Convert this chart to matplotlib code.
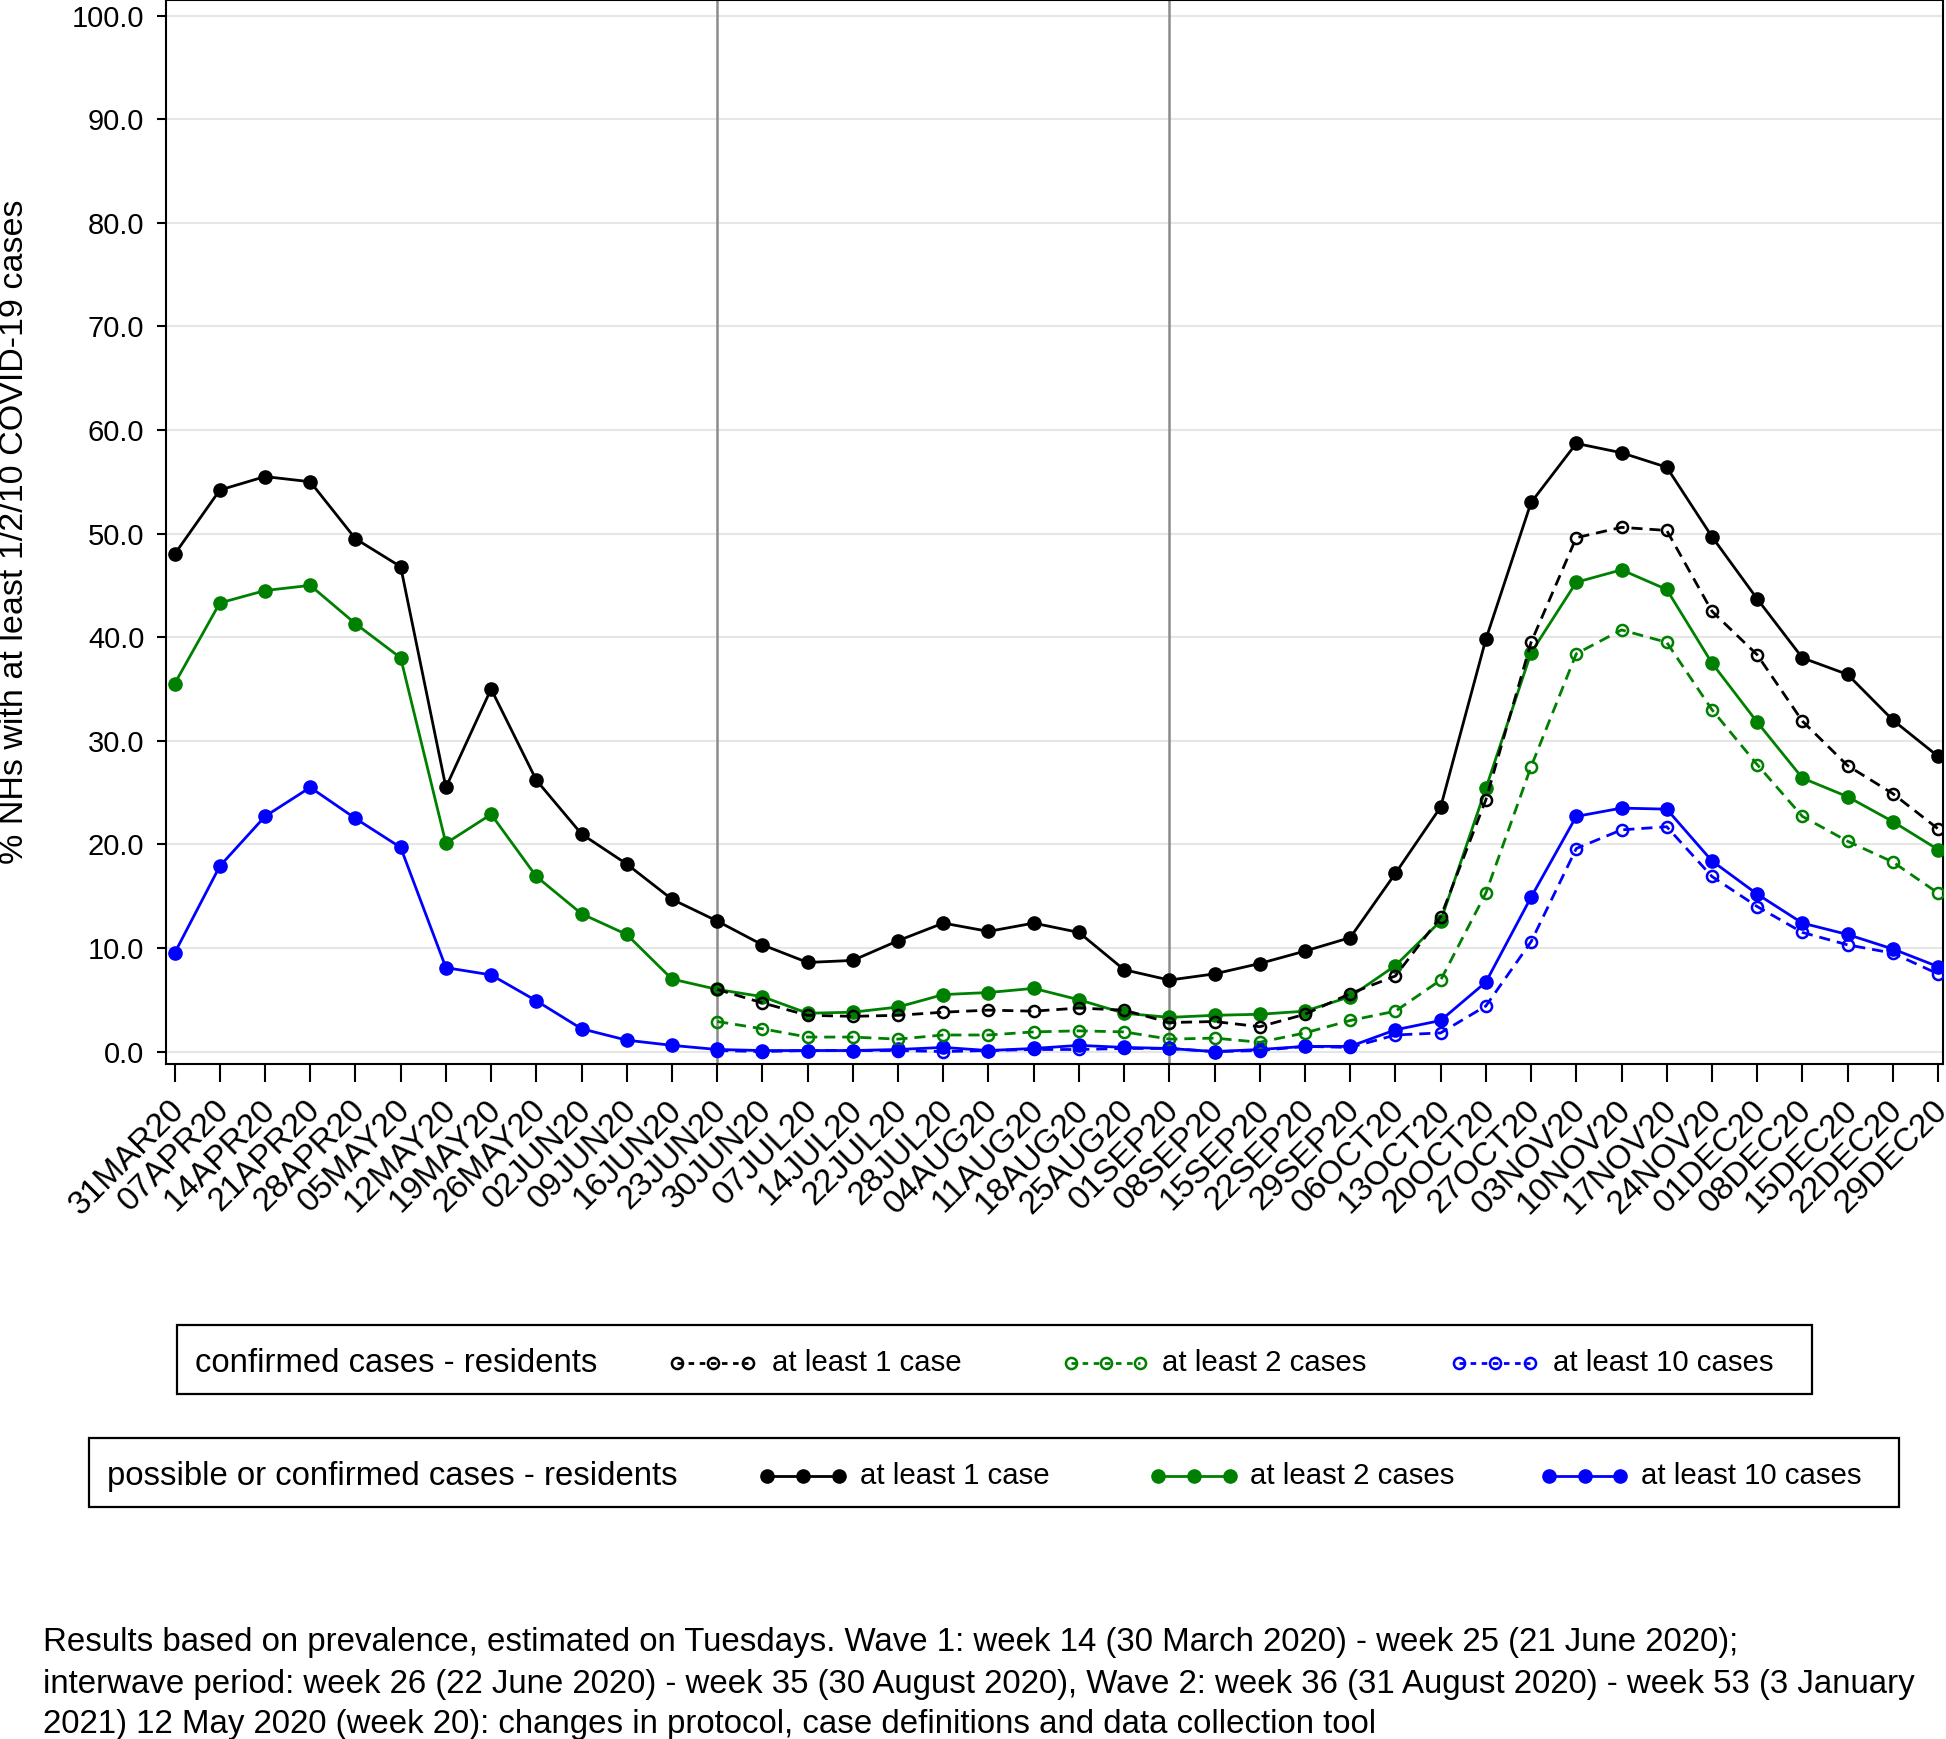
import matplotlib.pyplot as plt
import matplotlib.transforms as mtransforms
from matplotlib.lines import Line2D
from matplotlib.patches import Rectangle
import numpy as np

plt.rcParams['font.family'] = ['Liberation Sans', 'DejaVu Sans']

weeks = ['31MAR20', '07APR20', '14APR20', '21APR20', '28APR20', '05MAY20', '12MAY20',
         '19MAY20', '26MAY20', '02JUN20', '09JUN20', '16JUN20', '23JUN20', '30JUN20',
         '07JUL20', '14JUL20', '22JUL20', '28JUL20', '04AUG20', '11AUG20', '18AUG20',
         '25AUG20', '01SEP20', '08SEP20', '15SEP20', '22SEP20', '29SEP20', '06OCT20',
         '13OCT20', '20OCT20', '27OCT20', '03NOV20', '10NOV20', '17NOV20', '24NOV20',
         '01DEC20', '08DEC20', '15DEC20', '22DEC20', '29DEC20']

# possible or confirmed cases (solid)
poss_1 = [48.0, 54.2, 55.5, 55.0, 49.5, 46.8, 25.5, 35.0, 26.2, 21.0, 18.1, 14.7, 12.6,
          10.3, 8.6, 8.8, 10.7, 12.4, 11.6, 12.4, 11.5, 7.9, 6.9, 7.5, 8.5, 9.7, 11.0,
          17.2, 23.6, 39.8, 53.0, 58.7, 57.8, 56.4, 49.7, 43.7, 38.0, 36.4, 32.0, 28.5]
poss_2 = [35.5, 43.3, 44.5, 45.0, 41.3, 38.0, 20.1, 22.9, 16.9, 13.3, 11.3, 7.0, 6.0,
          5.3, 3.7, 3.8, 4.3, 5.5, 5.7, 6.1, 5.0, 3.7, 3.3, 3.5, 3.6, 3.9, 5.3,
          8.3, 12.6, 25.4, 38.5, 45.3, 46.5, 44.6, 37.5, 31.8, 26.4, 24.6, 22.2, 19.5]
poss_10 = [9.5, 17.9, 22.7, 25.5, 22.5, 19.7, 8.1, 7.4, 4.9, 2.2, 1.1, 0.6, 0.2,
           0.1, 0.1, 0.1, 0.2, 0.4, 0.1, 0.3, 0.6, 0.4, 0.3, 0.0, 0.2, 0.5, 0.5,
           2.1, 3.0, 6.7, 14.9, 22.7, 23.5, 23.4, 18.4, 15.2, 12.4, 11.3, 9.9, 8.2]

# confirmed cases (dashed), recorded from 23JUN20
conf_1 = [None] * 12 + [6.0, 4.7, 3.5, 3.4, 3.5, 3.8, 4.0, 3.9, 4.2, 4.0, 2.8, 2.9, 2.4,
                        3.6, 5.6, 7.3, 13.0, 24.3, 39.5, 49.6, 50.6, 50.3, 42.5, 38.3,
                        31.9, 27.6, 24.9, 21.5]
conf_2 = [None] * 12 + [2.9, 2.2, 1.4, 1.4, 1.2, 1.6, 1.6, 1.9, 2.0, 1.9, 1.2, 1.3, 0.9,
                        1.8, 3.0, 3.9, 6.9, 15.3, 27.5, 38.4, 40.7, 39.5, 33.0, 27.7,
                        22.7, 20.3, 18.3, 15.3]
conf_10 = [None] * 12 + [0.1, 0.0, 0.1, 0.1, 0.1, 0.0, 0.1, 0.2, 0.2, 0.3, 0.3, 0.0, 0.1,
                         0.5, 0.4, 1.6, 1.8, 4.4, 10.6, 19.6, 21.4, 21.7, 16.9, 14.0,
                         11.5, 10.3, 9.5, 7.5]

wave_marks = ['23JUN20', '01SEP20']

BLACK = '#000000'
GREEN = '#008000'
BLUE = '#0000ff'
colors = [BLACK, GREEN, BLUE]

fig = plt.figure(figsize=(19.46, 17.39), dpi=100)
ax = fig.add_axes([166 / 1946, 1 - 1064 / 1739, 1777 / 1946, 1064 / 1739])

x = np.arange(len(weeks))

for xv in [weeks.index(w) for w in wave_marks]:
    ax.axvline(xv, color='#8c8c8c', lw=1.8, zorder=1)

for serie, c in zip([poss_1, poss_2, poss_10], colors):
    ax.plot(x, serie, color=c, lw=2, marker='o', ms=9.5, mfc=c, mec=c, zorder=3)

for serie, c in zip([conf_1, conf_2, conf_10], colors):
    vals = np.array([np.nan if v is None else v for v in serie])
    ax.plot(x, vals, color=c, lw=2, ls=(0, (4, 2.5)), marker='o', ms=8,
            mfc='none', mec=c, mew=1.8, zorder=4)

ax.set_xlim(-0.19, 39.11)
ax.set_ylim(-1.2, 101.5)
ax.set_yticks(np.arange(0, 101, 10))
ax.set_yticklabels([f'{v:.1f}' for v in np.arange(0, 101, 10)], fontsize=21)
ax.set_xticks(x)
ax.set_xticklabels(weeks, rotation=45, ha='right', va='top', rotation_mode='anchor', fontsize=24)
ax.tick_params(axis='both', direction='out', width=1.5, color='black')
ax.tick_params(axis='y', length=6.5, pad=9)
ax.tick_params(axis='x', length=13, pad=9)
# nudge the rotated week labels a little to the left
shift = mtransforms.ScaledTranslation(-6 / 100, 0, fig.dpi_scale_trans)
for lbl in ax.get_xticklabels():
    lbl.set_transform(lbl.get_transform() + shift)
ax.grid(axis='y', color='#e6e6e6', lw=1.5, zorder=0)
ax.set_axisbelow(True)
for side in ['left', 'bottom', 'top', 'right']:
    ax.spines[side].set_linewidth(1.5)
    ax.spines[side].set_color('black')

fig.text(15 / 1946, 1 - 532 / 1739, '% NHs with at least 1/2/10 COVID-19 cases', rotation=90,
         ha='center', va='center', fontsize=24.5)


# legend boxes built by hand, in pixel coordinates of the figure
def px(xp, yp):
    return xp / 1946, 1 - yp / 1739


def legend_box(x0, y0, x1, y1, yc, title, tx, keys, dashed):
    bx, by = px(x0, y1)
    fig.add_artist(Rectangle((bx, by), (x1 - x0) / 1946, (y1 - y0) / 1739,
                             transform=fig.transFigure, fill=False, ec='black', lw=1.6))
    fig.text(*px(tx, yc), title, ha='left', va='center', fontsize=23.7)
    for (k0, k1, t0, label), c in zip(keys, colors):
        xs = [k0 / 1946, (k0 + k1) / 2 / 1946, k1 / 1946]
        ys = [px(0, yc)[1]] * 3
        if dashed:
            ln = Line2D(xs, ys, transform=fig.transFigure, color=c, lw=2, ls=(0, (2, 2)),
                        marker='o', ms=8, mfc='none', mec=c, mew=1.8)
        else:
            ln = Line2D(xs, ys, transform=fig.transFigure, color=c, lw=2,
                        marker='o', ms=9.5, mfc=c, mec=c)
        fig.add_artist(ln)
        fig.text(*px(t0, yc), label, ha='left', va='center', fontsize=21.2)


legend_box(177, 1325, 1812, 1394, 1363, 'confirmed cases - residents', 195,
           [(677, 748, 772, 'at least 1 case'),
            (1071, 1140, 1162, 'at least 2 cases'),
            (1459, 1530, 1553, 'at least 10 cases')], dashed=True)
legend_box(89, 1438, 1899, 1507, 1476, 'possible or confirmed cases - residents', 107,
           [(767, 839, 860, 'at least 1 case'),
            (1158, 1230, 1250, 'at least 2 cases'),
            (1549, 1620, 1641, 'at least 10 cases')], dashed=False)

nota = [
    'Results based on prevalence, estimated on Tuesdays. Wave 1: week 14 (30 March 2020) - week 25 (21 June 2020);',
    'interwave period: week 26 (22 June 2020) - week 35 (30 August 2020), Wave 2: week 36 (31 August 2020) - week 53 (3 January',
    '2021) 12 May 2020 (week 20): changes in protocol, case definitions and data collection tool',
]
for i, linea in enumerate(nota):
    fig.text(*px(43, 1643 + 41 * i), linea, ha='left', va='center', fontsize=23.8)

fig.savefig('out.png', dpi=100)
